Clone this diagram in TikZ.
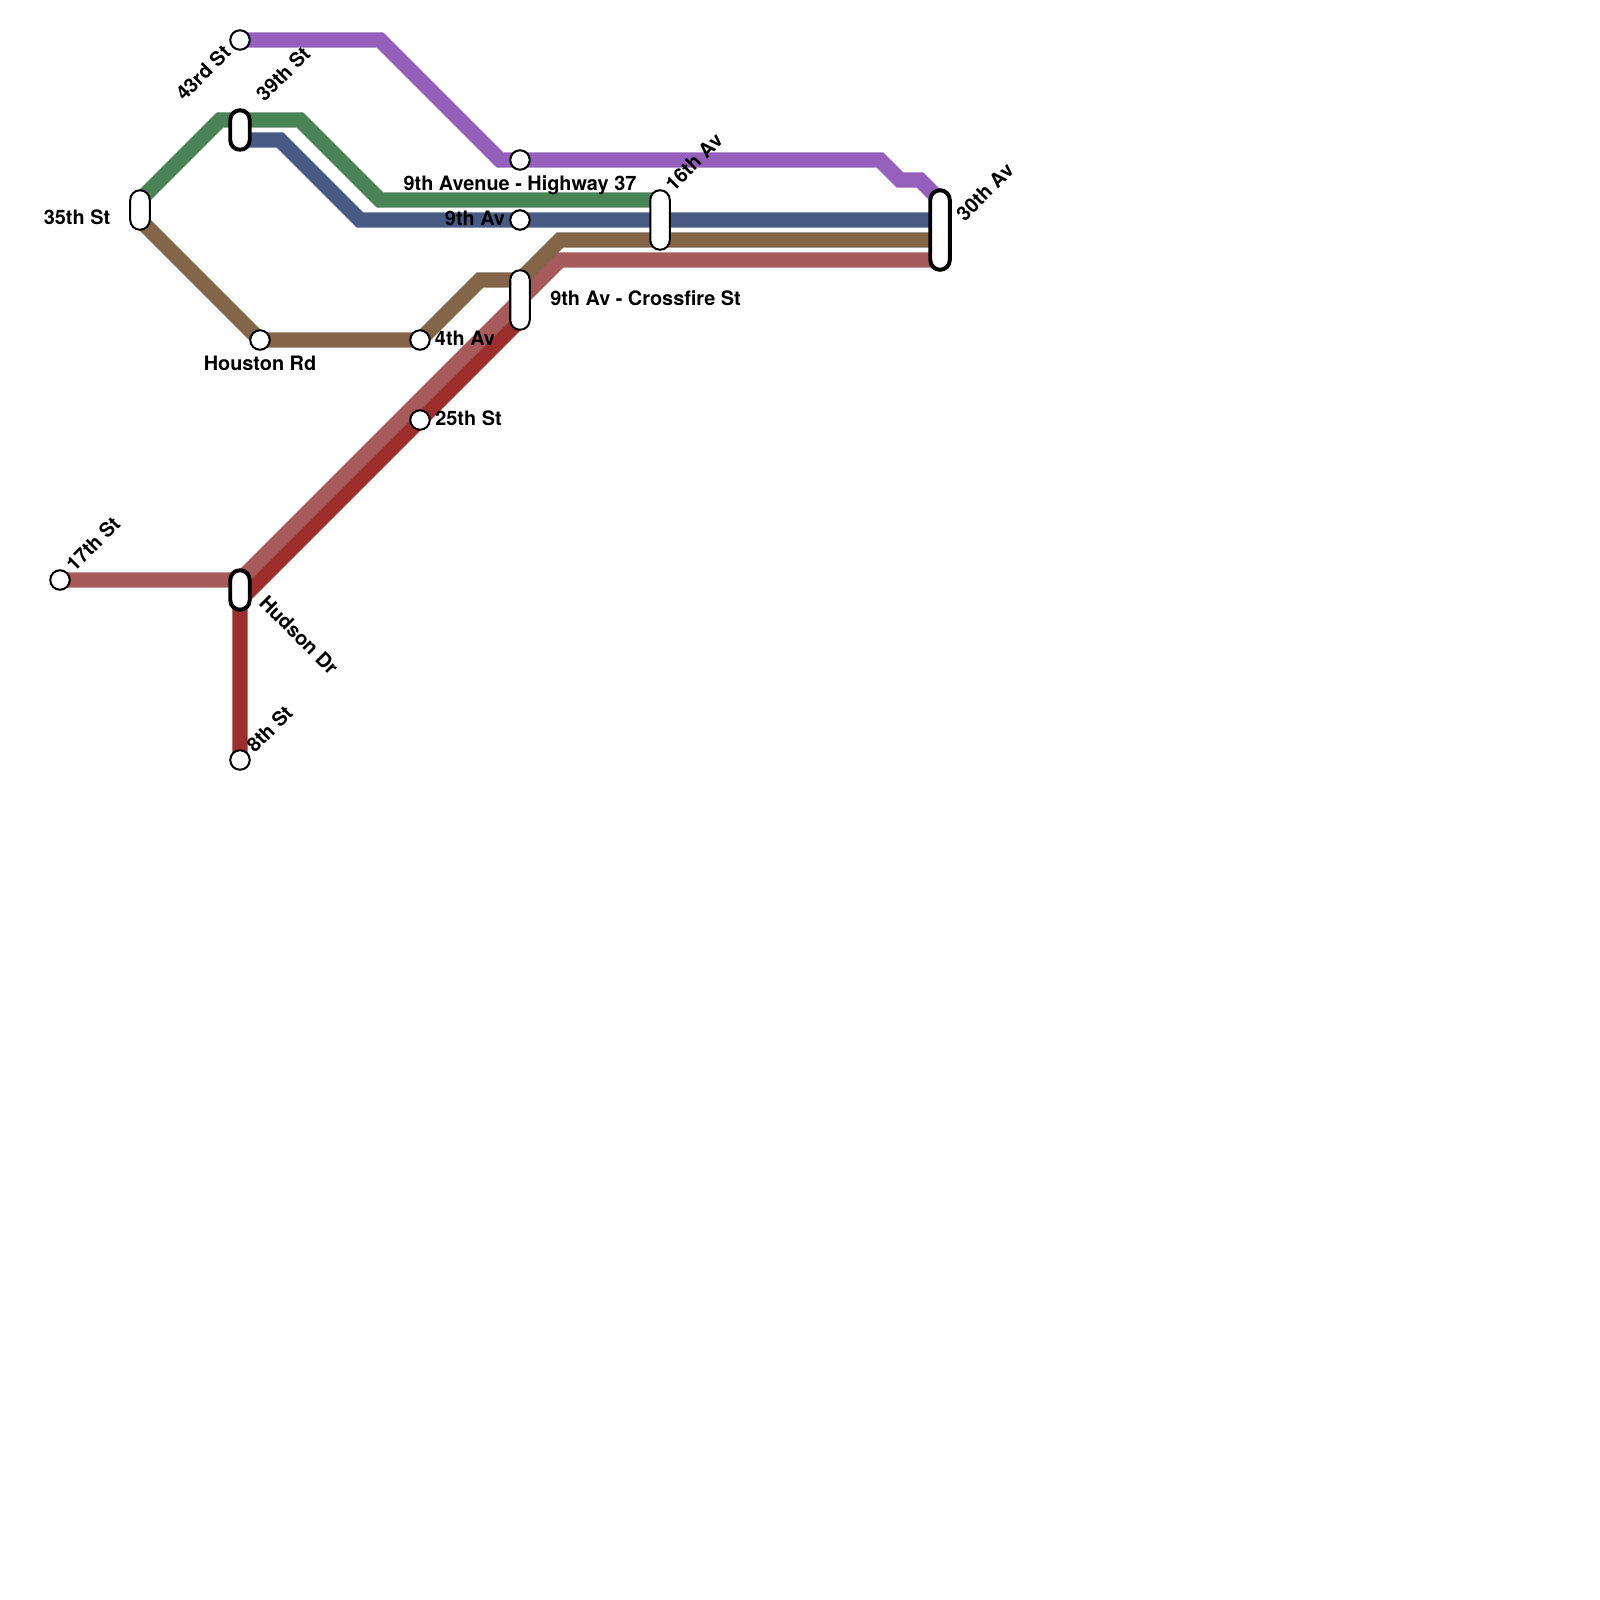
\documentclass[tikz,border=0pt]{standalone}
\usepackage{fontspec}
\setmainfont{TeX Gyre Heros}
\definecolor{purpleline}{HTML}{9560BC}
\definecolor{greenline}{HTML}{4A8356}
\definecolor{blueline}{HTML}{485B85}
\definecolor{brownline}{HTML}{846549}
\definecolor{roseline}{HTML}{A65A5A}
\definecolor{redline}{HTML}{9C2E2E}
\tikzset{
  route/.style={line width=4.4pt, line join=miter},
  halt/.style={circle, draw=black, fill=white, line width=0.57pt, inner sep=0pt, minimum size=1.95mm},
  pill/.style={rectangle, draw=black, fill=white, line width=0.57pt, inner sep=0pt, rounded corners=0.97mm, minimum width=1.95mm},
  bigpill/.style={pill, line width=1.13pt, minimum width=1.95mm},
  lbl/.style={font=\bfseries\fontsize{5.65}{7}\selectfont, inner sep=0pt, text=black}
}

\begin{document}
\begin{tikzpicture}[x=0.01cm, y=-0.01cm]
    \useasboundingbox (0,0) rectangle (1600,1600);
    % bends of the routes
    \foreach \n/\x/\y in {p0/240/40,p1/380/40,p2/500/160,p3/880/160,p4/900/180,p5/920/180,p6/940/200,
      g0/140/200,g1/220/120,g2/300/120,g3/380/200,g4/660/200,
      b0/240/140,b1/280/140,b2/360/220,b3/940/220,
      w0/140/220,w1/260/340,w2/420/340,w3/480/280,w4/520/280,w5/560/240,w6/940/240,
      r0/60/580,r1/240/580,r2/560/260,r3/940/260,
      d0/240/760,d1/240/600,d2/520/320}
      \coordinate (\n) at (\x,\y);
    % routes
    \draw[route, redline] (d0)--(d1)--(d2);
    \draw[route, roseline] (r0)--(r1)--(r2)--(r3);
    \draw[route, brownline] (w0)--(w1)--(w2)--(w3)--(w4)--(w5)--(w6);
    \draw[route, blueline] (b0)--(b1)--(b2)--(b3);
    \draw[route, greenline] (g0)--(g1)--(g2)--(g3)--(g4);
    \draw[route, purpleline] (p0)--(p1)--(p2)--(p3)--(p4)--(p5)--(p6);
    % stations
    \foreach \n/\x/\y in {st43/240/40,stave/520/160,stnine/520/220,sthou/260/340,stfour/420/340,sttwfive/420/420,stseven/60/580,steight/240/760}
      \node[halt] (\n) at (\x,\y) {};
    \node[pill, minimum height=3.95mm] (st35) at (140,210) {};
    \node[pill, minimum height=5.95mm] (stcross) at (520,300) {};
    \node[pill, minimum height=5.95mm] (st16) at (660,220) {};
    \node[bigpill, minimum height=3.95mm] (st39) at (240,130) {};
    \node[bigpill, minimum height=3.95mm] (sthud) at (240,590) {};
    \node[bigpill, minimum height=7.95mm] (st30) at (940,230) {};
    % labels
    \node[lbl, rotate=45] (lb43) at (203,73) {43rd St};
    \node[lbl, rotate=45] (lb39) at (283,74) {39th St};
    \node[lbl] (lb35) at (77,217) {35th St};
    \node[lbl] (lbhou) at (260,363) {Houston Rd};
    \node[lbl] (lbfour) at (465,338) {4th Av};
    \node[lbl, anchor=base] (lbave) at (520,190) {9th Avenue - Highway 37};
    \node[lbl] (lbnine) at (475,218) {9th Av};
    \node[lbl, rotate=45] (lb16) at (694,162) {16th Av};
    \node[lbl, rotate=45] (lb30) at (985,192) {30th Av};
    \node[lbl] (lbcross) at (645.5,298) {9th Av - Crossfire St};
    \node[lbl] (lbtwfive) at (468.5,418) {25th St};
    \node[lbl, rotate=45] (lbseven) at (93,544) {17th St};
    \node[lbl, rotate=-45] (lbhud) at (299,635) {Hudson Dr};
    \node[lbl, rotate=45] (lbeight) at (269.5,729) {8th St};
  \end{tikzpicture}
\end{document}
